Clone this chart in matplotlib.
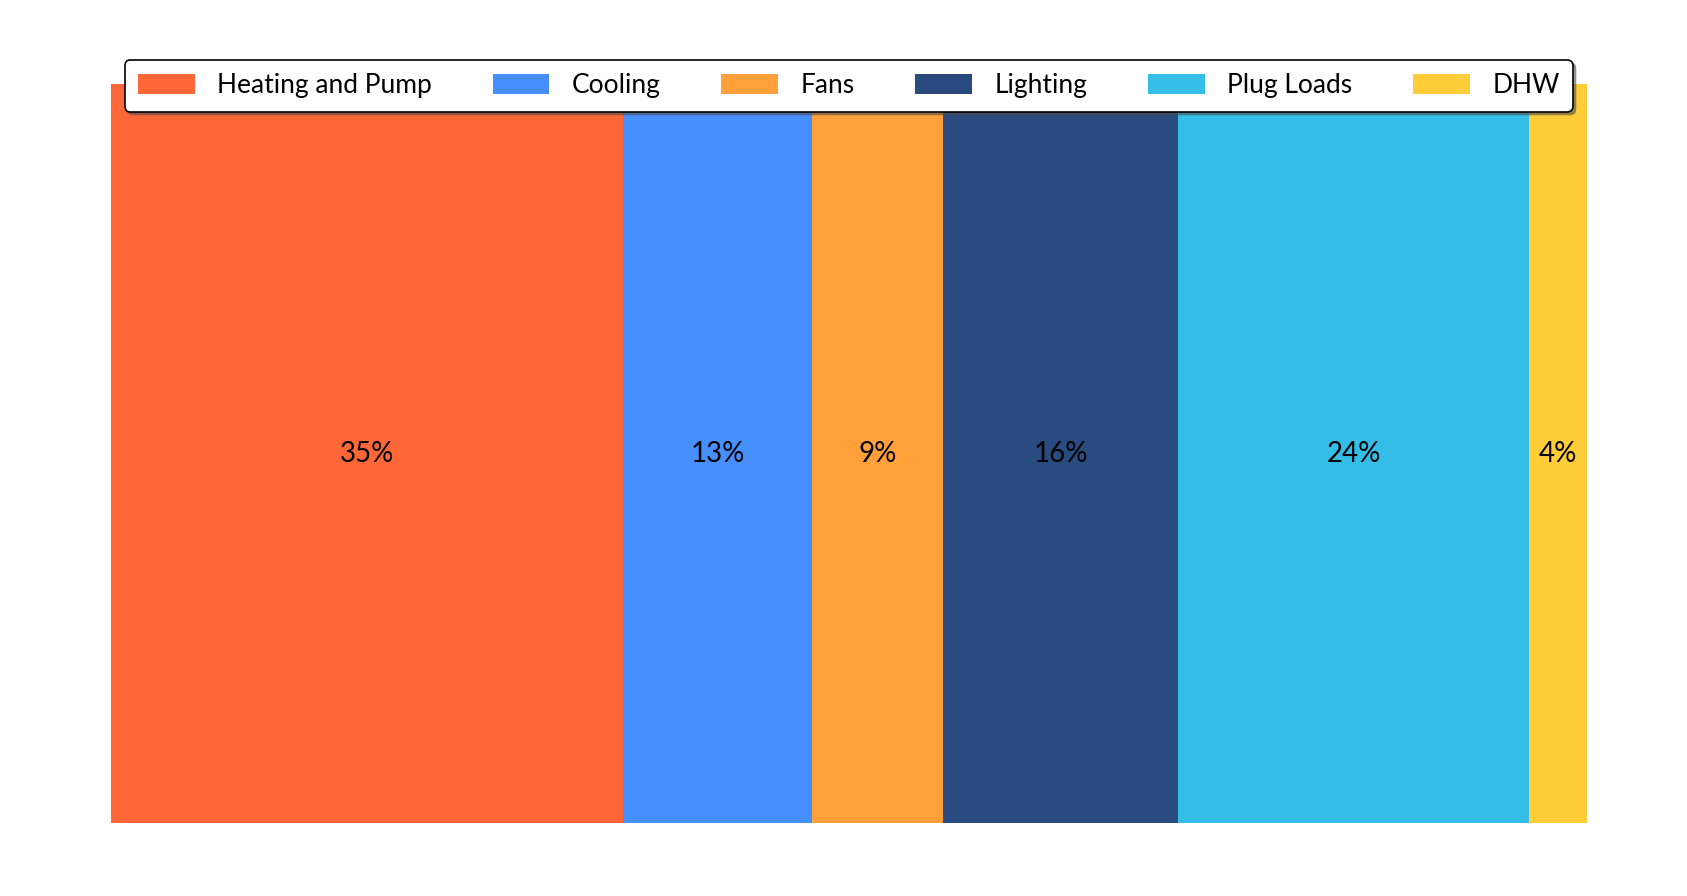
import matplotlib.pyplot as plt
import numpy as np

plt.rcParams['font.family'] = ['Lato', 'DejaVu Sans']

categories = ["Heating and Pump", "Cooling", "Fans", "Lighting", "Plug Loads", "DHW"]
shares = [34.7, 12.8, 8.9, 15.9, 23.8, 3.9]
colors = ["#FF6739", "#468FFF", "#FFA03A", "#294B80", "#34BDE6", "#FFCD38"]

fig = plt.figure(figsize=(16.87, 8.96), dpi=100)
ax = fig.add_axes([0.0658, 0.0815, 0.8747, 0.8247])

lefts = np.concatenate([[0], np.cumsum(shares)[:-1]])
for left, w, c, name in zip(lefts, shares, colors, categories):
    ax.bar(left, 1, width=w, align="edge", color=c, label=name, linewidth=0)
    ax.text(left + w / 2, 0.5, f"{w:.0f}%", ha="center", va="center", fontsize=20, color="black")

ax.set_xlim(0, sum(shares))
ax.set_ylim(0, 1)
ax.axis("off")

leg = ax.legend(loc="upper center", bbox_to_anchor=(0.5, 1.05), ncol=6, fontsize=19,
                frameon=True, fancybox=True, shadow=True, framealpha=1,
                edgecolor="black", handlelength=2.15, handleheight=0.8,
                handletextpad=0.85, columnspacing=2.3, borderpad=0.5)
leg.get_frame().set_linewidth(1.2)

fig.savefig("out.png", dpi=100)
